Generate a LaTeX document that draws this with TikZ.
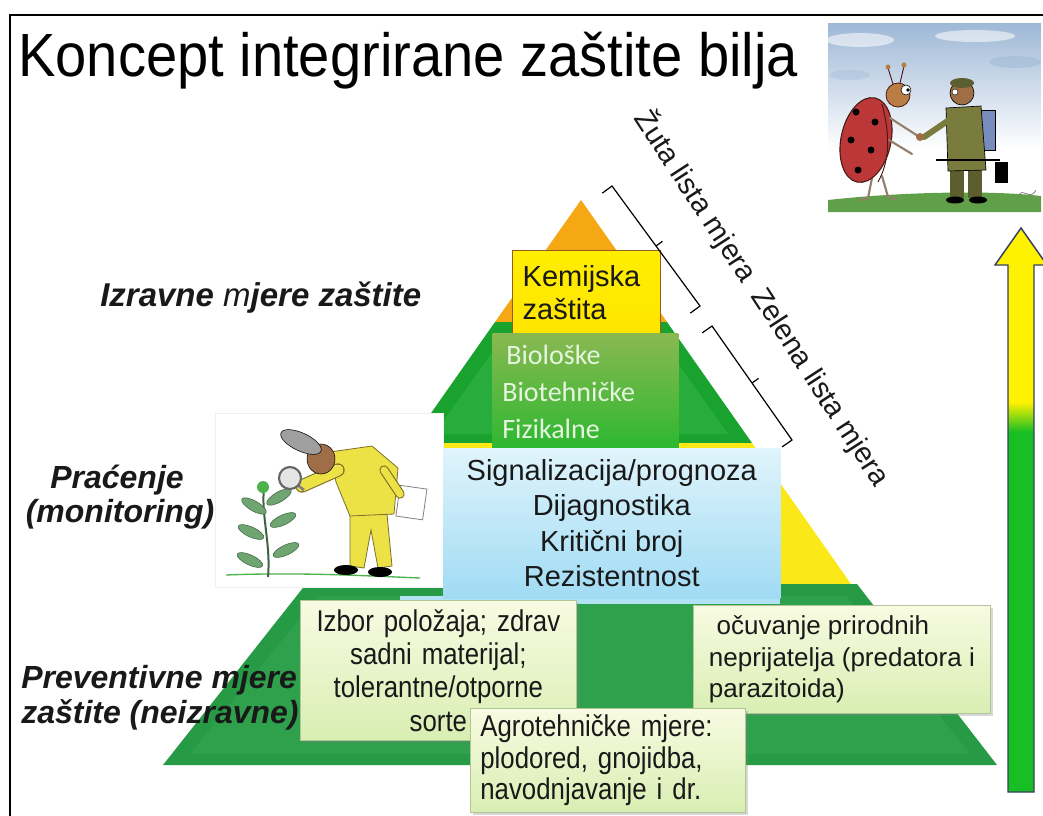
\documentclass[tikz,border=0pt]{standalone}
\usepackage{fontspec}
\setmainfont{Liberation Sans}
\newfontfamily\narrowfont[FakeStretch=0.86]{Liberation Sans}
\newfontfamily\titlefont[FakeStretch=0.92]{Liberation Sans}
\newfontfamily\calfont{Carlito}
\usetikzlibrary{calc,shadows}

% font size given in pixels of the 1043 x 815 canvas (1px = 0.75pt)
\newcommand\pxfont[2]{\fontsize{\dimexpr #1pt*3/4\relax}{\dimexpr #2pt*3/4\relax}\selectfont}

\definecolor{orangetier}{RGB}{245,168,20}
\definecolor{greentier}{RGB}{26,162,46}
\definecolor{greentierin}{RGB}{54,182,74}
\definecolor{yellowtier}{RGB}{250,232,24}
\definecolor{basegreen}{RGB}{38,154,68}
\definecolor{basegreenin}{RGB}{60,170,88}
\definecolor{kemfill}{RGB}{255,238,0}
\definecolor{kemedge}{RGB}{150,90,35}
\definecolor{biotop}{RGB}{138,184,82}
\definecolor{biobot}{RGB}{44,184,48}
\definecolor{biotext}{RGB}{230,245,224}
\definecolor{sigtop}{RGB}{224,244,251}
\definecolor{sigbot}{RGB}{160,219,244}
\definecolor{sigband}{RGB}{178,226,245}
\definecolor{boxtop}{RGB}{248,251,226}
\definecolor{boxbot}{RGB}{216,238,178}
\definecolor{boxedge}{RGB}{176,198,150}
\definecolor{arrowyellow}{RGB}{255,242,0}
\definecolor{arrowmid}{RGB}{170,180,80}
\definecolor{arrowgreen}{RGB}{24,190,36}
\definecolor{arrowedge}{RGB}{55,65,95}
\definecolor{textdark}{RGB}{25,25,25}
\definecolor{skytop}{RGB}{158,184,214}
\definecolor{grass}{RGB}{96,160,72}
\definecolor{ladyred}{RGB}{188,56,56}
\definecolor{ladyedge}{RGB}{70,25,25}
\definecolor{ladyhead}{RGB}{185,125,70}
\definecolor{skin}{RGB}{160,110,70}
\definecolor{coat}{RGB}{122,124,62}
\definecolor{coatdark}{RGB}{92,94,48}
\definecolor{packblue}{RGB}{120,140,190}
\definecolor{uniform}{RGB}{236,226,70}
\definecolor{uniformedge}{RGB}{125,112,40}
\definecolor{leaf}{RGB}{110,165,112}
\definecolor{leafedge}{RGB}{60,100,65}

% bracket along the pyramid slope: hooks at both ends, tick in the middle
\newcommand\listbracket[3]{%
  \coordinate (#1s) at #2;
  \coordinate (#1e) at #3;
  \coordinate (#1m) at ($(#1s)!0.5!(#1e)$);
  \draw[bracketline] ($(#1s)!9pt!-90:(#1e)$) -- (#1s) -- (#1e) -- ($(#1e)!9pt!90:(#1s)$);
  \draw[bracketline] (#1m) -- ($(#1m)!6pt!90:(#1e)$);
}

\begin{document}
\begin{tikzpicture}[x=0.75pt,y=-0.75pt,
  bracketline/.style={draw=black, line width=0.9pt, line join=miter},
  kembox/.style={draw=kemedge, line width=1.1pt, top color=kemfill, bottom color=kemfill!92!orange,
    anchor=north west, inner xsep=7.5pt, inner ysep=0pt, text=textdark},
  biobox/.style={top color=biotop, bottom color=biobot, anchor=north west,
    inner xsep=7.5pt, inner ysep=0pt, text=biotext},
  sigbox/.style={top color=sigtop, bottom color=sigbot, anchor=north west,
    inner sep=0pt, text=textdark},
  notebox/.style={draw=boxedge, line width=0.6pt, top color=boxtop, bottom color=boxbot,
    drop shadow={shadow xshift=1.6pt, shadow yshift=-1.6pt, opacity=0.3},
    anchor=north west, inner xsep=7.5pt, inner ysep=0pt, text=textdark},
  sidelabel/.style={text=textdark, inner sep=0pt},
  limb/.style={line width=1.6pt, line cap=round, draw=gray!70!brown},
]
\useasboundingbox (0,0) rectangle (1043,815);
\fill[white] (0,0) rectangle (1043,815);

% slide frame
\draw[line width=1.7pt, line cap=rect] (10,815) -- (10,15) -- (1043,15);

% title
\node[anchor=base west, inner sep=0pt, font=\titlefont\pxfont{61}{70}, text=black] (title) at (18,76)
  {Koncept integrirane zaštite bilja};

% ---------- ladybug and farmer scene ----------
\begin{scope}
  \clip (828,23) rectangle (1041,212);
  \shade[top color=skytop, bottom color=white] (828,23) rectangle (1041,150);
  \fill[white] (828,150) rectangle (1041,212);
  \fill[white, opacity=0.55] (860,40) ellipse [x radius=34, y radius=7];
  \fill[white, opacity=0.55] (975,36) ellipse [x radius=40, y radius=6];
  \fill[skytop, opacity=0.5] (1015,62) ellipse [x radius=26, y radius=6];
  \fill[skytop, opacity=0.35] (850,75) ellipse [x radius=20, y radius=5];
  \fill[grass] (828,212) -- (828,200) .. controls (900,192) and (990,190) .. (1041,196) -- (1041,212) -- cycle;
  % ladybug
  \draw[limb] (872,178) -- (868,198) -- (860,200);
  \draw[limb] (882,176) -- (888,197) -- (896,199);
  \fill[ladyred, draw=ladyedge, line width=0.8pt, rotate around={-12:(866,140)}]
    (866,140) ellipse [x radius=25, y radius=43];
  \draw[ladyedge, line width=0.7pt] (882,104) .. controls (891,138) and (889,162) .. (878,182);
  \foreach \p in {(856,112),(875,122),(851,140),(871,150),(858,170)}
    \fill[black] \p circle [radius=3.5];
  \draw[limb] (890,118) -- (918,136);
  \draw[limb] (889,140) -- (912,154);
  \fill[ladyhead, draw=ladyedge, line width=0.6pt] (898,95) circle [radius=12];
  \fill[white, draw=black, line width=0.4pt] (906,90) circle [radius=5];
  \fill[black] (908,90) circle [radius=1.8];
  \draw[ladyedge, line width=0.7pt] (893,84) -- (888,68);
  \draw[ladyedge, line width=0.7pt] (900,83) -- (904,66);
  \fill[ladyhead] (888,67) circle [radius=2.5] (904,65) circle [radius=2.5];
  % farmer
  \fill[coatdark] (950,168) rectangle (964,198);
  \fill[coatdark] (968,168) rectangle (982,198);
  \fill[black] (955,200) ellipse [x radius=9, y radius=3.5];
  \fill[black] (978,200) ellipse [x radius=9, y radius=3.5];
  \fill[packblue, draw=black, line width=0.4pt] (980,110) rectangle (995,150);
  \fill[coat, draw=black, line width=0.5pt] (946,108) -- (981,106) -- (986,170) -- (948,171) -- cycle;
  \draw[coat, line width=4.5pt, line cap=round] (952,118) -- (924,137);
  \fill[skin] (920,137) circle [radius=4];
  \fill[skin, draw=black, line width=0.5pt] (962,93) circle [radius=12];
  \fill[coatdark] (962,83) ellipse [x radius=12, y radius=5];
  \fill[white, draw=black, line width=0.3pt] (955,92) circle [radius=3];
  \draw[black, line width=2pt] (936,160) -- (1000,160);
  \fill[black] (995,162) rectangle (1008,183);
  \draw[gray, line width=0.6pt] (1018,196) .. controls (1024,186) and (1029,202) .. (1036,190);
\end{scope}

% ---------- pyramid ----------
\coordinate (apex) at (581,200);
\fill[orangetier] (apex) -- (667,322) -- (495,322) -- cycle;
\fill[greentier] (495,322) -- (667,322) -- (752,443) -- (410,443) -- cycle;
\fill[greentierin, opacity=0.5] (505,334) -- (657,334) -- (728,434) -- (434,434) -- cycle;
\fill[yellowtier] (410,443) -- (752,443) -- (851,584) -- (311,584) -- cycle;
\fill[basegreen] (306,584) -- (857,584) -- (997,765) -- (163,765) -- cycle;
\fill[basegreenin, opacity=0.45] (318,596) -- (846,596) -- (970,754) -- (190,754) -- cycle;

% ---------- inspector with magnifying glass ----------
\fill[white] (215,413) rectangle (443,587);
\draw[gray!12, line width=0.4pt] (215,413) rectangle (443,587);
\draw[gray!60!green, line width=1pt] (226,575) .. controls (300,572) and (370,576) .. (420,578);
\draw[leafedge, line width=1.5pt] (268,577) .. controls (271,545) and (261,515) .. (264,488);
\foreach \c/\a in {{(250,560)}/-25,{(286,550)}/25,{(251,532)}/-25,{(283,520)}/25,{(254,506)}/-30,{(279,497)}/30}
  \fill[leaf, draw=leafedge, line width=0.4pt, rotate around={\a:\c}] \c ellipse [x radius=14, y radius=5];
\fill[gray!60!green] (263,487) circle [radius=6];
\fill[uniform, draw=uniformedge, line width=0.6pt]
  (350,508) -- (386,504) -- (392,566) -- (378,568) -- (371,530) -- (364,568) -- (350,566) -- cycle;
\fill[black] (346,570) ellipse [x radius=12, y radius=5];
\fill[black] (380,572) ellipse [x radius=12, y radius=5];
\fill[uniform, draw=uniformedge, line width=0.6pt]
  (330,452) -- (372,446) -- (398,468) -- (394,514) -- (350,516) -- (336,482) -- cycle;
\draw[uniformedge, line width=10pt, line cap=round] (338,470) -- (302,486);
\draw[uniform, line width=8.4pt, line cap=round] (338,470) -- (302,486);
\draw[gray, line width=2pt] (296,484) -- (304,490);
\fill[gray!20, draw=gray!80!black, line width=1.6pt] (290,478) circle [radius=11];
\fill[white, draw=gray, line width=0.6pt, rotate around={-8:(411,502)}] (398,487) rectangle (425,518);
\draw[uniformedge, line width=7pt, line cap=round] (384,470) -- (400,494);
\draw[uniform, line width=5.4pt, line cap=round] (384,470) -- (400,494);
\fill[skin, draw=black, line width=0.4pt] (321,459) ellipse [x radius=14, y radius=15];
\fill[gray!75, draw=black, line width=0.4pt, rotate around={-25:(301,442)}] (301,442) ellipse [x radius=22, y radius=9];

% ---------- measure boxes on the pyramid ----------
\node[kembox, minimum width=143*0.75pt, minimum height=83*0.75pt, text width=128*0.75pt,
  align=left, font=\pxfont{29}{33}] (kem) at (512,250) {Kemijska\\zaštita};
\node[biobox, minimum width=186*0.75pt, minimum height=117*0.75pt, text width=166*0.75pt,
  align=left, font=\calfont\pxfont{28}{37}] (bio) at (492,333)
  {\hspace*{3pt}Biološke\\Biotehničke\\Fizikalne};
\fill[sigband] (400,596) rectangle (780,604);
\node[sigbox, minimum width=337*0.75pt, minimum height=150*0.75pt, align=center,
  font=\pxfont{29}{35.5}] (sig) at (443,448)
  {Signalizacija/prognoza\\Dijagnostika\\Kritični broj\\Rezistentnost};

\node[notebox, minimum width=276*0.75pt, minimum height=140*0.75pt, text width=256*0.75pt,
  align=center, font=\narrowfont\pxfont{30}{33.3}] (izbor) at (300,600)
  {Izbor položaja; zdrav\\sadni materijal;\\tolerantne/otporne\\sorte};
\node[notebox, minimum width=297*0.75pt, minimum height=108*0.75pt,
  align=left, font=\pxfont{26}{31.5}] (ocuv) at (693,605)
  {\hspace*{0.3em}očuvanje prirodnih\\neprijatelja (predatora i\\parazitoida)};
\node[notebox, minimum width=275*0.75pt, minimum height=104*0.75pt, text width=255*0.75pt,
  align=left, font=\narrowfont\pxfont{30}{31.5}] (agro) at (470,708)
  {Agrotehničke mjere:\\plodored, gnojidba,\\navodnjavanje i dr.};

% ---------- level labels ----------
\node[sidelabel, anchor=base west, font=\bfseries\itshape\pxfont{33}{36}] (izravne) at (100,306)
  {Izravne \textmd{m}jere zaštite};
\node[sidelabel, anchor=base, font=\bfseries\itshape\pxfont{32}{35}] (pracenje) at (117,488) {Praćenje};
\node[sidelabel, anchor=base, font=\bfseries\itshape\pxfont{32}{35}] (monitor) at (120,522) {(monitoring)};
\node[sidelabel, anchor=base west, font=\bfseries\itshape\pxfont{32}{35}] (prev1) at (21,688) {Preventivne mjere};
\node[sidelabel, anchor=base west, font=\bfseries\itshape\pxfont{32}{35}] (prev2) at (21,723) {zaštite (neizravne)};

% ---------- yellow and green lists ----------
\listbracket{bz}{(612,186)}{(700,306)}
\listbracket{bg}{(712,326)}{(792,440)}
\node[rotate=-57, inner sep=0pt, font=\pxfont{29}{29}, text=textdark] (zuta) at (696,196) {Žuta lista mjera};
\node[rotate=-57, inner sep=0pt, font=\pxfont{29}{29}, text=textdark] (zelena) at (819,388) {Zelena lista mjera};

% ---------- rising arrow ----------
\coordinate (a1) at (1008,792);
\coordinate (a2) at (1008,265);
\coordinate (a3) at (995,265);
\coordinate (a4) at (1021,228);
\coordinate (a5) at (1047,265);
\coordinate (a6) at (1034,265);
\coordinate (a7) at (1034,792);
\begin{scope}
  \clip (a1) -- (a2) -- (a3) -- (a4) -- (a5) -- (a6) -- (a7) -- cycle;
  \fill[arrowyellow] (990,220) rectangle (1050,402);
  \shade[top color=arrowyellow, middle color=arrowmid, bottom color=arrowgreen] (990,402) rectangle (1050,432);
  \fill[arrowgreen] (990,432) rectangle (1050,795);
\end{scope}
\draw[arrowedge, line width=1.1pt, line join=miter] (a1) -- (a2) -- (a3) -- (a4) -- (a5) -- (a6) -- (a7) -- cycle;
\end{tikzpicture}
\end{document}
